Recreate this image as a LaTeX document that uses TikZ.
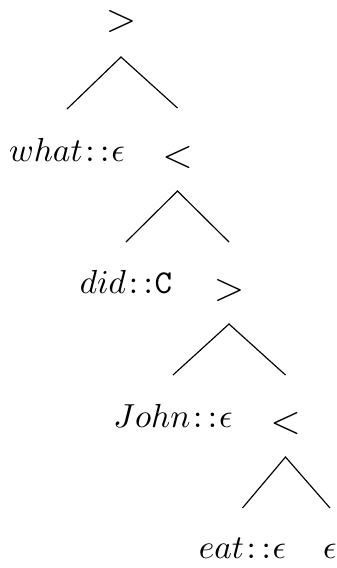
\documentclass[tikz,border=0pt]{standalone}
\newcommand{\dcol}{\mkern1.5mu{:}\mkern3mu{:}\mkern1mu}
\begin{document}
\begin{tikzpicture}[x=0.3pt,y=-0.3pt,
  lbl/.style={inner sep=0pt, anchor=base},
  op/.style={inner sep=0pt, anchor=center, font=\large},
  edge/.style={line width=0.35pt}]
\useasboundingbox (0,0) rectangle (337,568);
% operators
\node[op] (r0) at (121,21) {$>$};
\node[op] (r1) at (177.5,157) {$<$};
\node[op] (r2) at (229,290) {$>$};
\node[op] (r3) at (285.5,423) {$<$};
% leaves
\node[lbl] (what) at (67,161) {$what\dcol\epsilon$};
\node[lbl] (did)  at (126,293) {$did\dcol\texttt{C}$};
\node[lbl] (john) at (173,427) {$John\dcol\epsilon$};
\node[lbl] (eat)  at (242.5,558) {$eat\dcol\epsilon$};
\node[lbl] (eps)  at (330,558) {$\epsilon$};
% edges
\draw[edge] ([yshift=15.6pt]what.base) -- ([yshift=-10.8pt]r0.center) -- ([yshift=14.7pt]r1.center);
\draw[edge] ([yshift=15.3pt]did.base) -- ([yshift=-10.2pt]r1.center) -- ([yshift=14.4pt]r2.center);
\draw[edge] ([yshift=15.6pt]john.base) -- ([yshift=-10.2pt]r2.center) -- ([yshift=14.4pt]r3.center);
\draw[edge] ([yshift=15pt]eat.base) -- ([yshift=-10.2pt]r3.center) -- ([yshift=15pt]eps.base);
\end{tikzpicture}
\end{document}
